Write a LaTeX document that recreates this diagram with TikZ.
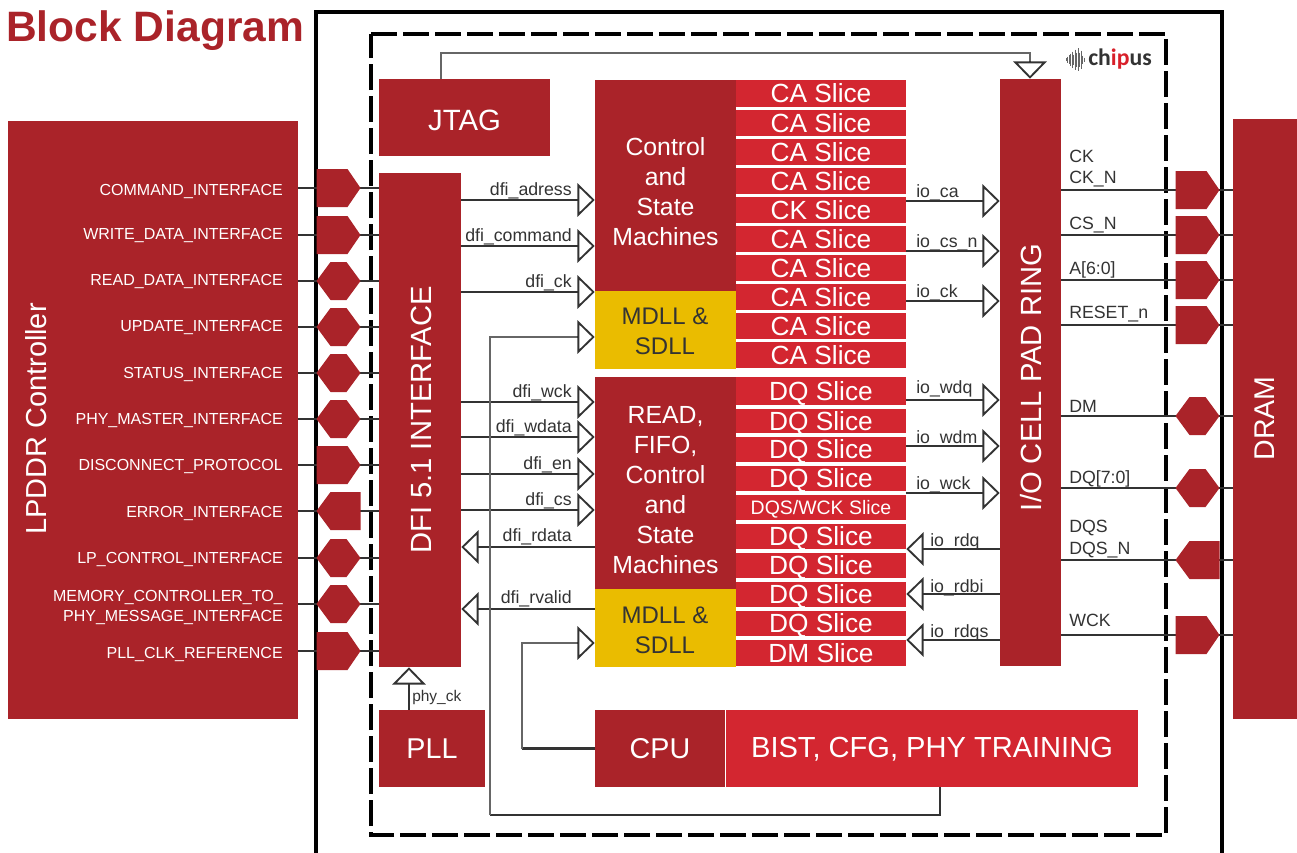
\documentclass[tikz,border=0pt]{standalone}
\usepackage{fontspec}
\setmainfont{Liberation Sans}
\newfontfamily\logofont{Carlito}
\usetikzlibrary{arrows.meta}
\definecolor{brickred}{HTML}{AA2329}
\definecolor{slicered}{HTML}{D32630}
\definecolor{mdllyellow}{HTML}{EABC00}
\definecolor{wiredark}{HTML}{333333}
\definecolor{wiregray}{HTML}{666666}
\definecolor{logored}{HTML}{D8202A}
\newcommand{\fsz}[2]{\fontsize{#1}{#2}\selectfont}
\newcommand{\blk}[6]{% style, name, x1, y1, x2, y2
  \node[#1,minimum width={(#5-#3)*0.75pt},minimum height={(#6-#4)*0.75pt}] (#2) at ({(#3+#5)/2},{(#4+#6)/2})}
\tikzset{
  boxa/.style={fill=brickred,text=white,inner sep=0pt,align=center},
  boxb/.style={fill=slicered,text=white,inner sep=0pt,align=center},
  boxc/.style={fill=mdllyellow,text=wiredark,inner sep=0pt,align=center},
  slicetext/.style={font=\fsz{19.7}{24},text height=14pt,text depth=0pt},
  blocktext/.style={inner sep=0pt,align=center,text=white,font=\fsz{18.6}{22.5}},
  mdlltext/.style={inner sep=0pt,align=center,text=wiredark,font=\fsz{18}{22.5}},
  wire/.style={draw=wiredark,line width=2pt},
  thinwire/.style={draw=wiregray,line width=1.4pt},
  tipopen/.style={-{Triangle[open,length=13pt,width=25pt,line width=1.4pt,wiredark]}},
  lbl/.style={inner sep=0pt,text=wiredark,font=\fsz{13.3}{16}},
  lblw/.style={inner sep=0pt,text=white,font=\fsz{12}{15}},
  vert/.style={inner sep=0pt,text=white,rotate=90},
  shapefill/.style={fill=brickred}
}
\newcommand{\pentR}[2]{\fill[shapefill,shift={(#1,#2)}] (0,-19) -- (31,-19) -- (44,0) -- (31,19) -- (0,19) -- cycle;}
\newcommand{\pentL}[2]{\fill[shapefill,shift={(#1,#2)}] (0,0) -- (14,-19) -- (44,-19) -- (44,19) -- (14,19) -- cycle;}
\newcommand{\hexa}[2]{\fill[shapefill,shift={(#1,#2)}] (0,0) -- (14,-19) -- (30,-19) -- (44,0) -- (30,19) -- (14,19) -- cycle;}
\begin{document}
\begin{tikzpicture}[x=0.75pt,y=-0.75pt]
\clip (0,0) rectangle (1297,853);
\fill[white] (0,0) rectangle (1297,853);

% frames
\draw[black,line width=2.4pt] (316,870) -- (316,12) -- (1222,12) -- (1222,870);
\draw[black,line width=3pt,dash pattern=on 19.3pt off 4.7pt] (371,34) -- (1166,34) -- (1166,835) -- (371,835) -- cycle;

% title
\node[inner sep=0pt,anchor=base west,text=brickred,font=\fsz{31.9}{36}\bfseries] (title) at (6,41) {Block Diagram};

% blocks
\blk{boxa}{lpddr}{8}{121}{298}{719} {};
\blk{boxa}{dram}{1233}{119}{1297}{719} {};
\blk{boxa}{jtag}{379}{79}{550}{156} {};
\blk{boxa}{dfi}{379}{173}{461}{667} {};
\blk{boxa}{csm}{595}{80}{736}{291} {};
\blk{boxc}{mdlla}{595}{291}{736}{369} {};
\blk{boxa}{rsm}{595}{377}{736}{589} {};
\blk{boxc}{mdllb}{595}{589}{736}{667} {};
\blk{boxa}{pad}{1000}{79}{1061}{666} {};
\blk{boxa}{pll}{379}{710}{485}{787} {\fsz{21.5}{26}PLL};
\blk{boxa}{cpu}{595}{710}{725}{787} {\fsz{21.5}{26}CPU};
\blk{boxb}{bist}{726}{710}{1138}{787} {};

\node[inner sep=0pt,text=white,font=\fsz{22}{26},text height=15.75pt,text depth=0pt] (jtagtext) at (464.5,120) {JTAG};
\node[inner sep=0pt,text=white,font=\fsz{21.8}{26},text height=15.75pt,text depth=0pt] (bisttext) at (932,747) {BIST, CFG, PHY TRAINING};
\node[blocktext] (csmtext) at (665.5,191.5) {Control\\and\\State\\Machines};
\node[blocktext] (rsmtext) at (665.5,490) {READ,\\FIFO,\\Control\\and\\State\\Machines};
\node[mdlltext] (mdllatext) at (665,331) {MDLL \&\\SDLL};
\node[mdlltext] (mdllbtext) at (665,630) {MDLL \&\\SDLL};

\node[vert,font=\fsz{21.7}{26}] (lpddrtext) at (36,419) {LPDDR Controller};
\node[vert,font=\fsz{21.4}{26}] (dramtext) at (1265,418.5) {DRAM};
\node[vert,font=\fsz{21.9}{26}] (dfitext) at (421,420) {DFI 5.1 INTERFACE};
\node[vert,font=\fsz{21.9}{26}] (padtext) at (1031,377.5) {I/O CELL PAD RING};

% slices
\blk{boxb,slicetext}{saa}{736}{80}{906}{107} {CA Slice};
\foreach \y/\t [count=\i] in {110/CA,139/CA,168/CA,197/CK,226/CA,255/CA,284/CA,313/CA,342/CA}
  {\blk{boxb,slicetext}{sa\i}{736}{\y}{906}{\y+26} {\t{} Slice};}
\foreach \y/\h/\t [count=\i] in {377/27.5/DQ,409/24/DQ,437/25/DQ,466/25/DQ,524/25/DQ,553/25/DQ,582/25/DQ,611/25/DQ,640/26/DM}
  {\blk{boxb,slicetext}{sb\i}{736}{\y}{906}{\y+\h} {\t{} Slice};}
\blk{boxb,font=\fsz{14.6}{18},text height=10.5pt,text depth=0pt}{sbw}{736}{495}{906}{520} {DQS/WCK Slice};

% wires left side and right side
\foreach \y in {188,235,281,327,373,419,465,511,558,604,651}
  \draw[wire] (lpddr.east |- 0,\y) -- (dfi.west |- 0,\y);
\foreach \y in {190,235,280,325,416,488,560,635}
  \draw[wire] (pad.east |- 0,\y) -- (dram.west |- 0,\y);

% interface shapes, left
\pentR{316.5}{188}\pentR{316.5}{235}\hexa{316.5}{281}\hexa{316.5}{327}\hexa{316.5}{373}\hexa{316.5}{419}
\pentR{316.5}{465}\pentL{316.5}{511}\hexa{316.5}{558}\hexa{316.5}{604}\pentR{316.5}{651}
% interface shapes, right
\pentR{1175.5}{190}\pentR{1175.5}{235}\pentR{1175.5}{280}\pentR{1175.5}{325}
\hexa{1175.5}{416}\hexa{1175.5}{488}\pentL{1175.5}{560}\pentR{1175.5}{635}

% left labels
\foreach \t/\y [count=\i] in {COMMAND\_INTERFACE/195,WRITE\_DATA\_INTERFACE/239,READ\_DATA\_INTERFACE/285,UPDATE\_INTERFACE/331,STATUS\_INTERFACE/378,PHY\_MASTER\_INTERFACE/424,DISCONNECT\_PROTOCOL/470,ERROR\_INTERFACE/517,LP\_CONTROL\_INTERFACE/563,MEMORY\_CONTROLLER\_TO\_/601,PHY\_MESSAGE\_INTERFACE/621,PLL\_CLK\_REFERENCE/658}
  {\node[lblw,anchor=base east] (ll\i) at (283,\y) {\t};}

% dfi wires
\foreach \y/\t [count=\i] in {200/adress,246/command,292/ck}
  {\draw[wire,tipopen] (dfi.east |- 0,\y) -- (csm.west |- 0,\y);
   \node[lbl,anchor=base east] (da\i) at (572,\y-4.5) {dfi\_\t};}
\foreach \y/\t [count=\i] in {402/wck,437/wdata,474/en,510/cs}
  {\draw[wire,tipopen] (dfi.east |- 0,\y) -- (rsm.west |- 0,\y);
   \node[lbl,anchor=base east] (db\i) at (572,\y-5) {dfi\_\t};}
\draw[wire,tipopen] (rsm.west |- 0,547) -- (dfi.east |- 0,547);
\node[lbl,anchor=base east] (dc1) at (572,541.5) {dfi\_rdata};
\draw[wire,tipopen] (mdllb.west |- 0,609) -- (dfi.east |- 0,609);
\node[lbl,anchor=base east] (dc2) at (572,603.5) {dfi\_rvalid};

% pad wires
\foreach \y/\b/\t [count=\i] in {201/197/ca,251/247/cs\_n,301/297/ck,400/393/wdq,446/443/wdm,493/489/wck}
  {\draw[wire,tipopen] (saa.east |- 0,\y) -- (pad.west |- 0,\y);
   \node[lbl,anchor=base west] (ia\i) at (916,\b) {io\_\t};}
\foreach \y/\b/\t [count=\i] in {549/546/rdq,594/592/rdbi,640/637/rdqs}
  {\draw[wire,tipopen] (pad.west |- 0,\y) -- (saa.east |- 0,\y);
   \node[lbl,anchor=base west] (ib\i) at (930,\b) {io\_\t};}

% right labels
\foreach \t/\y [count=\i] in {CK/162,CK\_N/183,CS\_N/229,{A[6:0]}/274,RESET\_n/318,DM/412,{DQ[7:0]}/483,DQS/532,DQS\_N/554,WCK/626}
  {\node[lbl,anchor=base west] (rl\i) at (1069,\y) {\t};}

% jtag to pad
\draw[thinwire] (441,0 |- jtag.north) -- (441,53) -- (1030,53) -- (1030,62);
\draw[wire,line width=1.5pt,tipopen] (1030,61) -- (1030,0 |- pad.north);

% PLL to DFI
\draw[wire,tipopen] (409,0 |- pll.north) -- (409,0 |- dfi.south);
\node[lbl,anchor=base west,font=\fsz{11.6}{14}] (phyck) at (412,701) {phy\_ck};

% BIST to MDLL A
\coordinate (bendbl) at (490,815);
\draw[wire] (940,0 |- bist.south) -- (940,815) -- (bendbl);
\draw[thinwire] (bendbl) -- (490,337) -- (578,337);
\draw[wire,line width=1.5pt,tipopen] (577,337) -- (mdlla.west |- 0,337);

% CPU to MDLL B
\coordinate (bendcpu) at (522,748.5);
\draw[wire] (cpu.west) -- (bendcpu);
\draw[thinwire] (bendcpu) -- (522,643) -- (578,643);
\draw[wire,line width=1.5pt,tipopen] (577,643) -- (mdllb.west |- 0,643);

% logo
\foreach \dx/\h in {0/1.5,1.5/3,3/4.5,4.5/6,6/8,7.5/5,9/10,10.5/7,12/11.5,13.5/7,15/9,16.5/4,18/2}
  \draw[wiregray,line width=0.45pt] (1066+\dx,59.5-\h) -- (1066+\dx,59.5+\h);
\node[inner sep=0pt,anchor=base west,text=wiredark,font=\logofont\fsz{17.8}{20}\bfseries] (logo) at (1088,65) {ch{\color{logored}ip}us};
\end{tikzpicture}
\end{document}
